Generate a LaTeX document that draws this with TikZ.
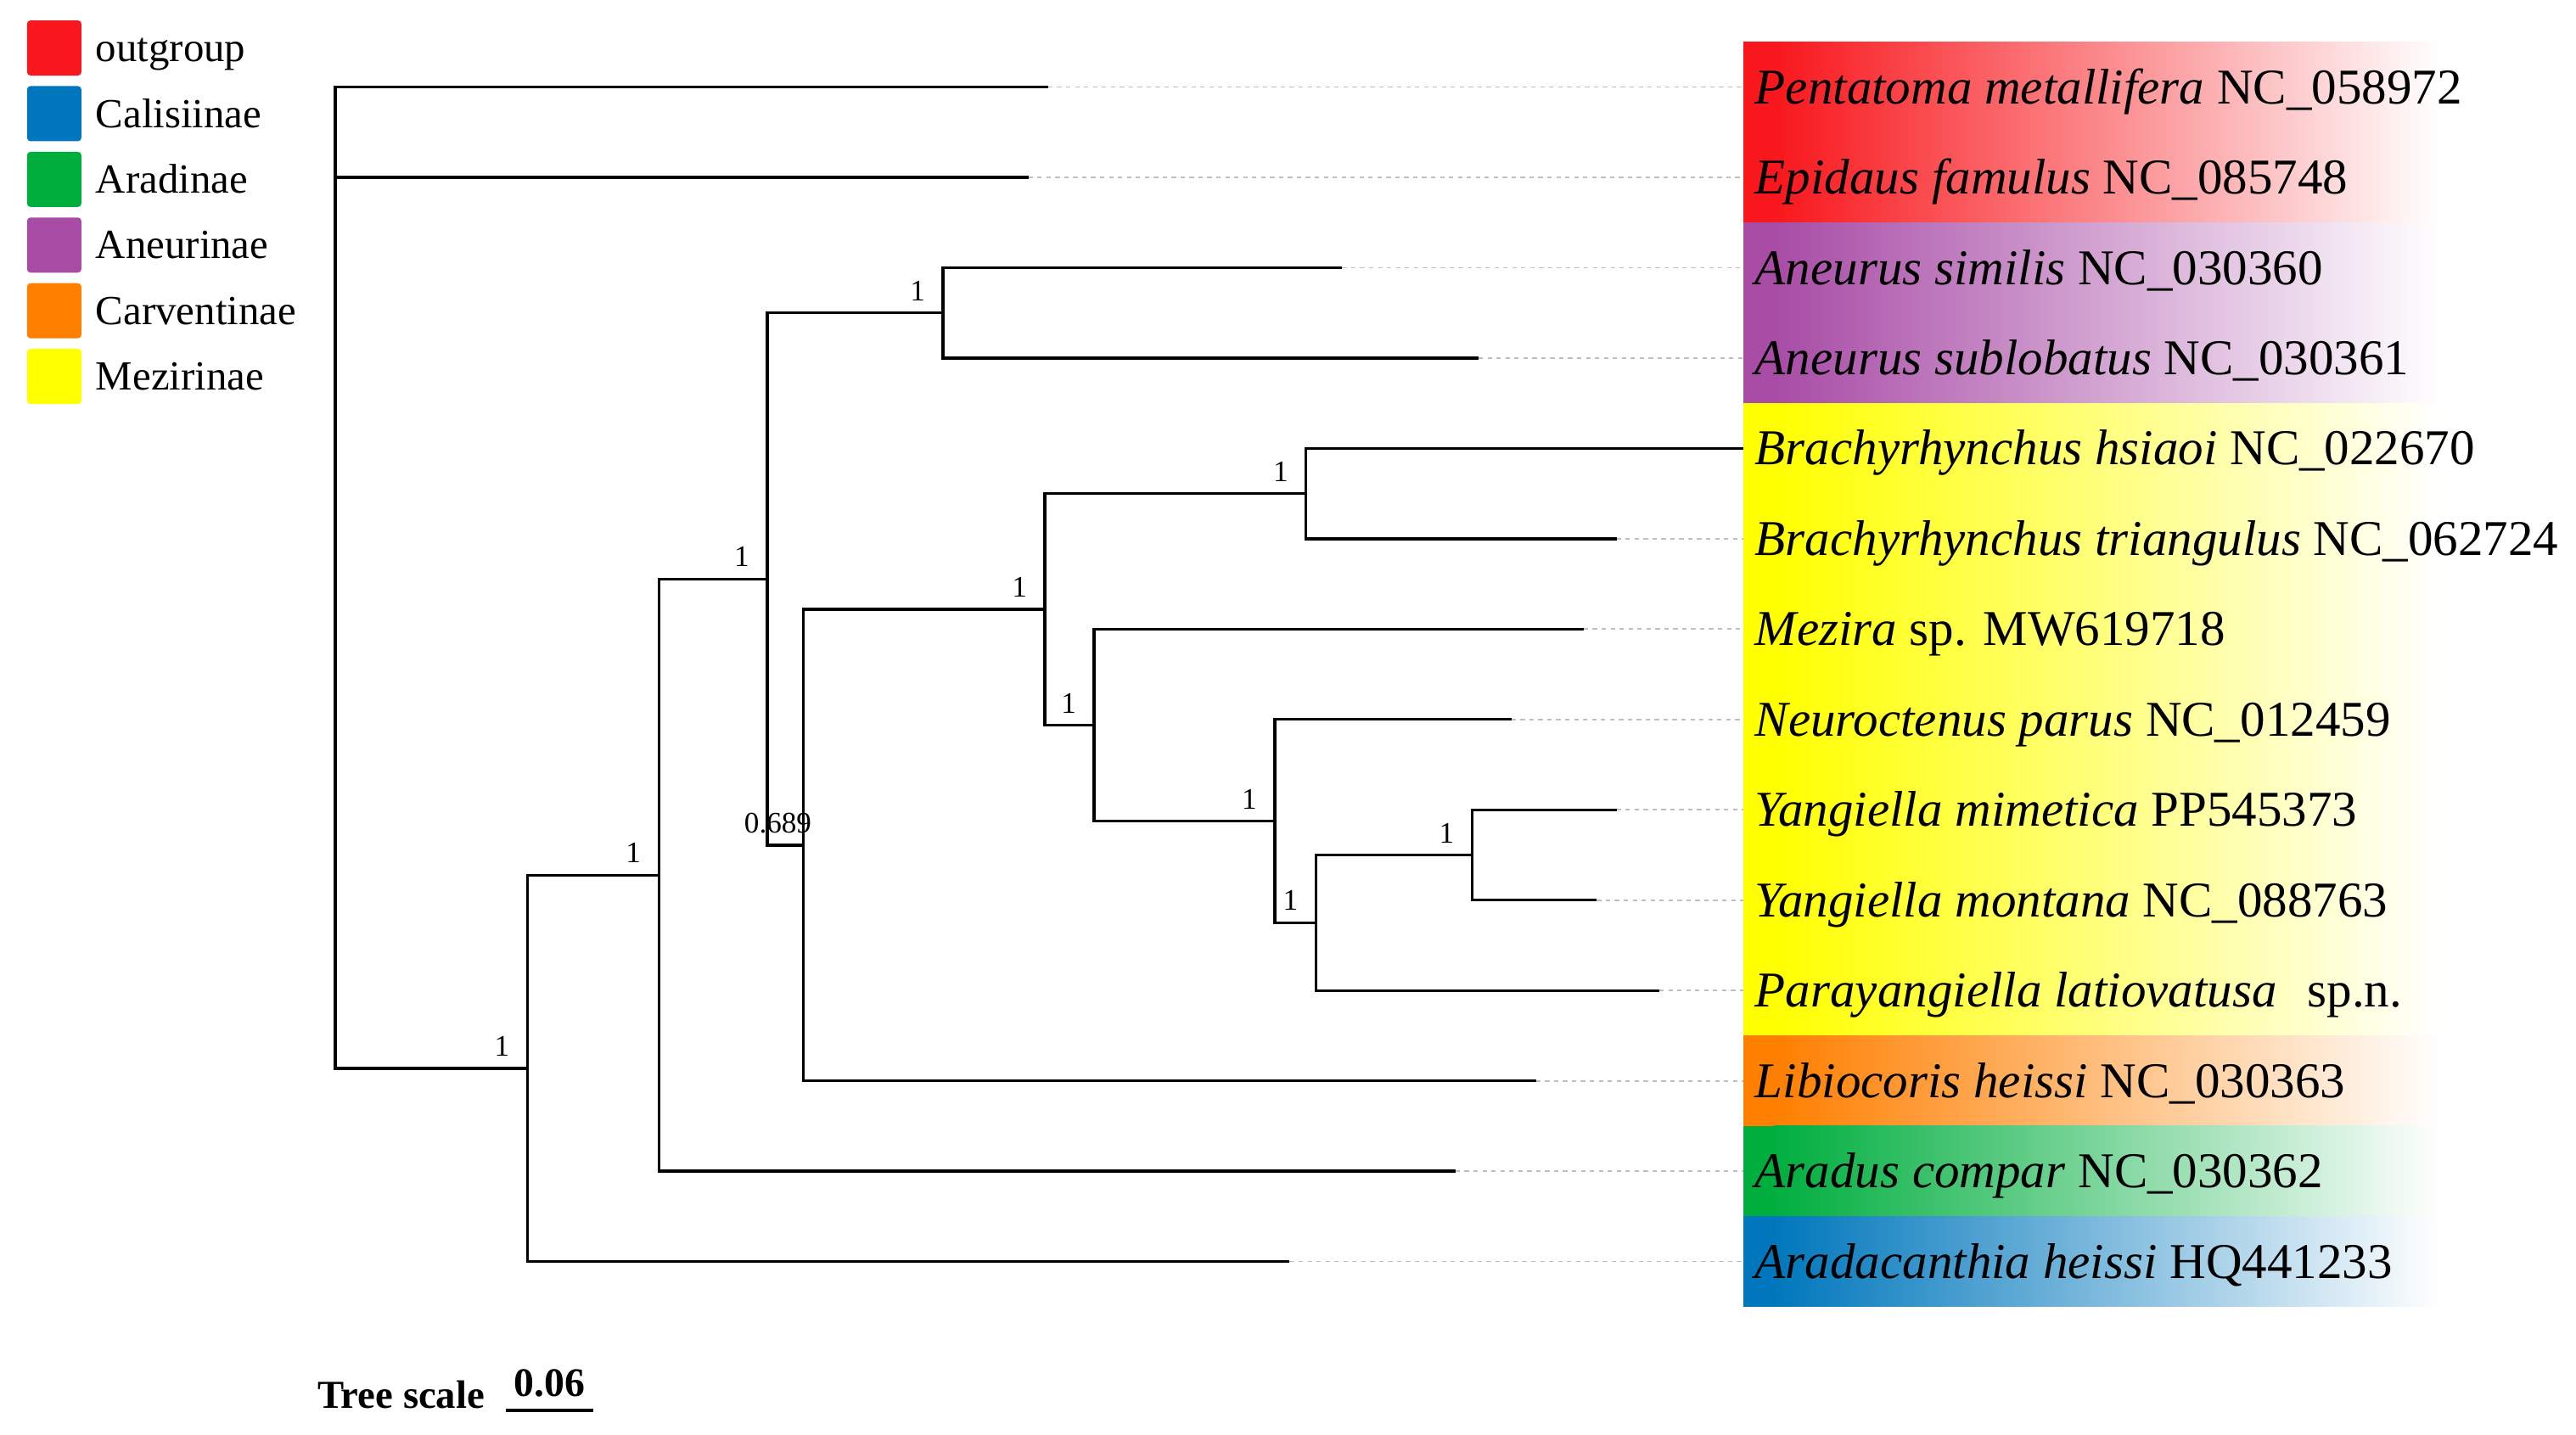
\documentclass[tikz,border=0pt]{standalone}
\usepackage{fontspec}
\setmainfont{Liberation Serif}
\definecolor{cRed}{HTML}{F8171C}
\definecolor{cBlue}{HTML}{0077BC}
\definecolor{cGreen}{HTML}{00AE3E}
\definecolor{cPurple}{HTML}{A84CA6}
\definecolor{cOrange}{HTML}{FF7F00}
\definecolor{cYellow}{HTML}{FFFF00}
\begin{document}
\begin{tikzpicture}[x=0.019356cm, y=-0.019356cm,
  branch/.style={line width=0.95pt},
  guide/.style={draw=black!25, line width=0.5pt, dash pattern=on 1.5pt off 1.5pt},
  leaflab/.style={anchor=west, inner xsep=0.135cm, inner ysep=0pt, text height=11.1pt, text depth=0pt, font=\fontsize{16.8}{20}\selectfont},
  legtext/.style={anchor=west, inner sep=0pt, text height=9.2pt, text depth=0pt, font=\fontsize{13.9}{16}\selectfont},
  legbox/.style={rounded corners=0.04cm, minimum width=0.64cm, minimum height=0.65cm, inner sep=0pt},
  support/.style={font=\fontsize{10}{12}\selectfont, inner sep=0pt, text height=6.7pt, text depth=0pt},
  band/.style={middle color=#1!40, left color=#1, right color=white}
]
\useasboundingbox (0,0) rectangle (1568,873.6);

% colour bands
\foreach \c/\ya/\yb in {cRed/25.5/135.5, cPurple/135.5/245.5, cYellow/245.5/630.5, cOrange/630.5/685.5, cGreen/685.5/740.5, cBlue/740.5/795.5}{
  \fill[\c] (1061,\ya) rectangle (1082,\yb);
  \shade[band=\c] (1080,\ya) rectangle (1485,\yb);
}

% legend
\node[legbox, fill=cRed]    (k1) at (33,29.2)  {};
\node[legbox, fill=cBlue]   (k2) at (33,69.2)  {};
\node[legbox, fill=cGreen]  (k3) at (33,109.2) {};
\node[legbox, fill=cPurple] (k4) at (33,149.2) {};
\node[legbox, fill=cOrange] (k5) at (33,189.2) {};
\node[legbox, fill=cYellow] (k6) at (33,229.2) {};
\node[legtext] (t1) at (58,29.2)  {outgroup};
\node[legtext] (t2) at (58,69.2)  {Calisiinae};
\node[legtext] (t3) at (58,109.2) {Aradinae};
\node[legtext] (t4) at (58,149.2) {Aneurinae};
\node[legtext] (t5) at (58,189.2) {Carventinae};
\node[legtext] (t6) at (58,229.2) {Mezirinae};

% leaf ends
\coordinate (e1)  at (638,53);
\coordinate (e2)  at (626,108);
\coordinate (e3)  at (817,163);
\coordinate (e4)  at (900,218);
\coordinate (e5)  at (1061,273);
\coordinate (e6)  at (984,328);
\coordinate (e7)  at (964,383);
\coordinate (e8)  at (920,438);
\coordinate (e9)  at (984,493);
\coordinate (e10) at (972,548);
\coordinate (e11) at (1010,603);
\coordinate (e12) at (935,658);
\coordinate (e13) at (886,713);
\coordinate (e14) at (785,768);

% internal nodes
\coordinate (R) at (204,108);
\coordinate (A) at (321,650.4);
\coordinate (B) at (401,532.75);
\coordinate (C) at (467,352.5);
\coordinate (D) at (574,190.5);
\coordinate (E) at (489,514.5);
\coordinate (F) at (636,371);
\coordinate (G) at (795,300.5);
\coordinate (H) at (666,441.4);
\coordinate (I) at (776,499.9);
\coordinate (J) at (801,561.75);
\coordinate (K) at (896,520.5);

% leaf labels
\node[leaflab] (L1)  at (1061,53)  {\textit{Pentatoma metallifera} NC\_058972};
\node[leaflab] (L2)  at (1061,108) {\textit{Epidaus famulus} NC\_085748};
\node[leaflab] (L3)  at (1061,163) {\textit{Aneurus similis} NC\_030360};
\node[leaflab] (L4)  at (1061,218) {\textit{Aneurus sublobatus} NC\_030361};
\node[leaflab] (L5)  at (1061,273) {\textit{Brachyrhynchus hsiaoi} NC\_022670};
\node[leaflab] (L6)  at (1061,328) {\textit{Brachyrhynchus triangulus} NC\_062724};
\node[leaflab] (L7)  at (1061,383) {\textit{Mezira} sp. MW619718};
\node[leaflab] (L8)  at (1061,438) {\textit{Neuroctenus parus} NC\_012459};
\node[leaflab] (L9)  at (1061,493) {\textit{Yangiella mimetica} PP545373};
\node[leaflab] (L10) at (1061,548) {\textit{Yangiella montana} NC\_088763};
\node[leaflab] (L11) at (1061,603) {\textit{Parayangiella latiovatusa}\hspace{0.36cm}sp.n.};
\node[leaflab] (L12) at (1061,658) {\textit{Libiocoris heissi} NC\_030363};
\node[leaflab] (L13) at (1061,713) {\textit{Aradus compar} NC\_030362};
\node[leaflab] (L14) at (1061,768) {\textit{Aradacanthia heissi} HQ441233};

% dashed guides
\foreach \i in {1,2,3,4,6,7,8,9,10,11,12,13,14}{
  \draw[guide] (e\i) -- (L\i.west);
}

% branches
\draw[branch] (R) |- (e1);
\draw[branch] (R) |- (e2);
\draw[branch] (R) |- (A);
\draw[branch] (A) |- (B);
\draw[branch] (A) |- (e14);
\draw[branch] (B) |- (C);
\draw[branch] (B) |- (e13);
\draw[branch] (C) |- (D);
\draw[branch] (C) |- (E);
\draw[branch] (D) |- (e3);
\draw[branch] (D) |- (e4);
\draw[branch] (E) |- (F);
\draw[branch] (E) |- (e12);
\draw[branch] (F) |- (G);
\draw[branch] (F) |- (H);
\draw[branch] (G) |- (e5);
\draw[branch] (G) |- (e6);
\draw[branch] (H) |- (e7);
\draw[branch] (H) |- (I);
\draw[branch] (I) |- (e8);
\draw[branch] (I) |- (J);
\draw[branch] (J) |- (K);
\draw[branch] (J) |- (e11);
\draw[branch] (K) |- (e9);
\draw[branch] (K) |- (e10);

% support values
\foreach \n/\v in {A/1, B/1, C/1, D/1, E/0.689, F/1, G/1, H/1, I/1, J/1, K/1}{
  \node[support] (s\n) at ([shift={(-15.5,-13.5)}]\n) {\v};
}

% tree scale
\node[anchor=base west, inner sep=0pt, font=\fontsize{13.3}{16}\selectfont\bfseries] (ts) at (193,857.6) {Tree scale};
\node[anchor=base, inner sep=0pt, font=\fontsize{13.6}{16}\selectfont\bfseries] (tv) at (334.5,850) {0.06};
\coordinate (sb1) at (308,858.6);
\coordinate (sb2) at (361,858.6);
\draw[line width=1.1pt] (sb1) -- (sb2);
\end{tikzpicture}
\end{document}
